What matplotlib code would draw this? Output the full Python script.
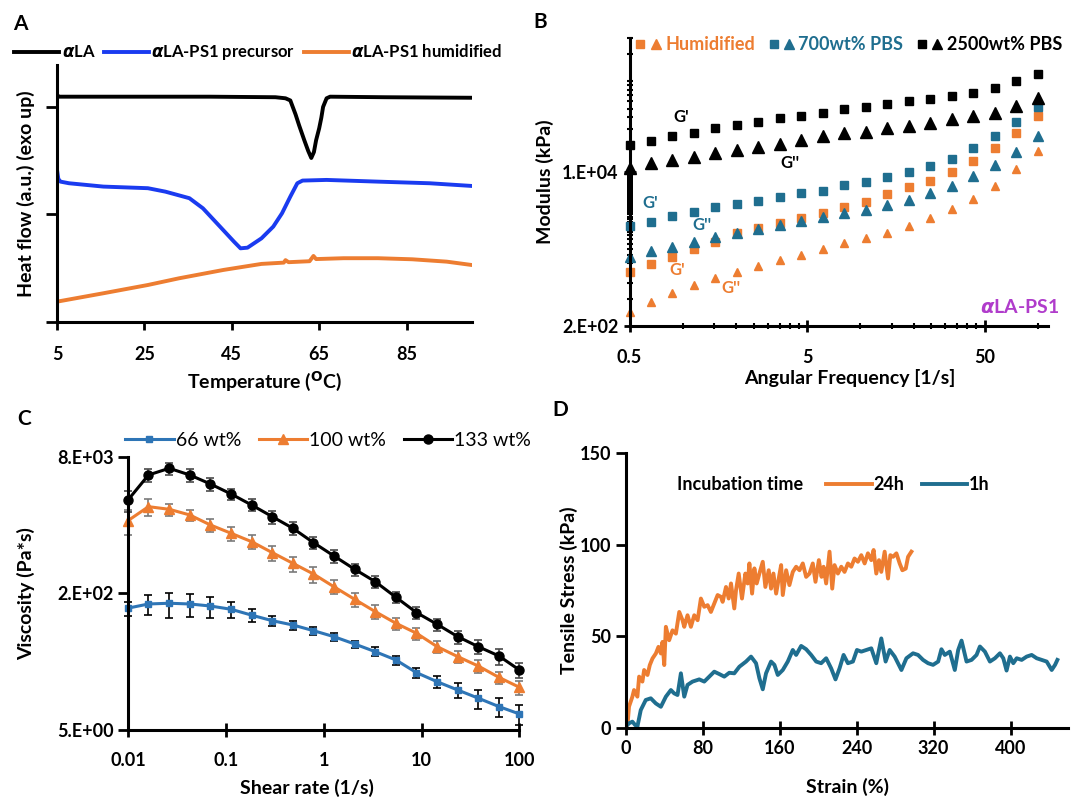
import matplotlib
matplotlib.use('Agg')
import matplotlib.pyplot as plt
from matplotlib.lines import Line2D
from matplotlib.legend_handler import HandlerTuple
from matplotlib.ticker import FixedLocator, NullFormatter

plt.rcParams['font.family'] = ['Lato', 'DejaVu Sans']
plt.rcParams['font.weight'] = 'bold'
plt.rcParams['axes.labelweight'] = 'bold'
plt.rcParams['axes.linewidth'] = 2.2
plt.rcParams['mathtext.fontset'] = 'dejavusans'

ORANGE = '#ED7D31'
TEAL = '#1F6E8F'
BLUE_C = '#2E75B6'
BLUE_A = '#1A3BF0'
PURPLE = '#B03CCB'

# ---------------- A: DSC curves ----------------
temp_la = [5, 5.5, 20, 40, 55, 57.3, 58.4, 59.6, 60.4, 61.6, 62.5, 63.2, 63.8, 64.3,
           65.0, 65.5, 65.9, 66.7, 67.5, 80, 100]
heat_la = [2.11, 2.095, 2.095, 2.095, 2.09, 2.08, 2.06, 1.93, 1.83, 1.69, 1.59, 1.525,
           1.58, 1.69, 1.80, 1.90, 2.0, 2.08, 2.095, 2.09, 2.085]
temp_pre = [5, 5.3, 5.8, 7.75, 15.6, 25.8, 29.8, 35.3, 38.4, 42.3, 45.5, 47.0, 48.6,
            51.8, 54.5, 56.5, 58.4, 60.0, 61.2, 66.7, 78.5, 90.3, 99.9]
heat_pre = [1.414, 1.33, 1.305, 1.29, 1.259, 1.244, 1.212, 1.151, 1.057, 0.887, 0.747,
            0.685, 0.691, 0.778, 0.887, 1.011, 1.166, 1.29, 1.315, 1.321, 1.305, 1.29, 1.265]
temp_hum = [5, 15.6, 25.8, 32.9, 43.1, 51.8, 56.9, 57.3, 58.0, 62.8, 63.7, 64.3, 70.6,
            78.5, 86.3, 94.2, 99.9]
heat_hum = [0.189, 0.267, 0.344, 0.406, 0.484, 0.540, 0.552, 0.575, 0.556, 0.565, 0.614,
            0.585, 0.593, 0.593, 0.583, 0.561, 0.530]
temp_ticks = [5, 25, 45, 65, 85]

# ---------------- B: frequency sweep ----------------
freq = [0.5, 0.661, 0.873, 1.154, 1.525, 2.016, 2.664, 3.52, 4.65, 6.15, 8.13, 10.74,
        14.2, 18.76, 24.8, 32.8, 43.3, 57.2, 75.6, 100]
g1_2500 = [19900, 22100, 25000, 27200, 30800, 33000, 35400, 39200, 41500, 44500, 49200,
           51800, 55900, 60800, 64400, 69000, 75000, 84500, 101000, 121000]
g2_2500 = [11000, 12500, 13600, 14500, 16100, 17500, 19000, 20400, 22500, 25000, 26700,
           27900, 30400, 32200, 34500, 38200, 41500, 45200, 53500, 65100]
g1_700 = [2535, 2827, 3270, 3648, 4140, 4436, 4820, 5335, 5820, 6220, 7190, 7815, 8870,
          9870, 11600, 14000, 18600, 24800, 35900, 52100]
g2_700 = [1161, 1352, 1476, 1701, 1902, 2138, 2332, 2601, 2899, 3162, 3554, 3808, 4324,
          4909, 5820, 7000, 9036, 11900, 16800, 25000]
g1_hum = [794, 966, 1161, 1402, 1701, 2105, 2392, 2757, 3083, 3554, 4140, 4701, 5715,
          6776, 8015, 10000, 13300, 18300, 26700, 41500]
g2_hum = [287, 370, 458, 566, 671, 794, 917, 1069, 1213, 1402, 1633, 1853, 2138, 2535,
          3083, 3873, 5035, 7000, 10700, 17200]

# ---------------- C: viscosity ----------------
shear = [0.01, 0.0162, 0.0264, 0.0428, 0.0695, 0.113, 0.183, 0.298, 0.483, 0.785, 1.27,
         2.07, 3.36, 5.46, 8.86, 14.4, 23.4, 37.9, 61.6, 100]
visc_133 = [2484, 4882, 5848, 4882, 3829, 2925, 2173, 1585, 1159, 786, 549, 383, 274,
            180, 119, 86.7, 62.1, 47.4, 36.9, 25.2]
err_133 = [700, 800, 950, 800, 700, 450, 350, 280, 200, 130, 90, 60, 45, 28, 18, 14, 11,
           9, 8, 5]
visc_100 = [1423, 2075, 1933, 1658, 1266, 1012, 807, 600, 450, 337, 239, 170, 122, 89.1,
            68.1, 47.4, 36.2, 28.1, 20.7, 15.8]
err_100 = [450, 450, 300, 250, 220, 180, 150, 120, 90, 70, 45, 30, 22, 15, 11, 8, 6, 5,
           3.5, 3]
visc_66 = [134, 150, 153, 150, 142, 130, 111, 95.5, 85.1, 73.0, 62.1, 50.9, 41.4, 33.1,
           23.5, 18.4, 14.7, 11.8, 9.4, 7.7]
err_66 = [25, 40, 50, 45, 40, 28, 20, 13, 10, 8, 6.5, 5, 5, 4, 3, 3, 3, 3, 2.3, 2]

# ---------------- D: tensile ----------------
strain_24h = [0, 2, 3.4, 6.9, 8.6, 12.1, 13.9, 17.3, 19.1, 22.6, 25.0, 27.8, 31.3, 34.0,
              36.5, 38.2, 40.0, 41.7, 45.1, 48.6, 52.1, 55.6, 59.0, 60.8, 64.2, 67.7,
              71.2, 74.7, 78.1, 81.6, 85.1, 88.5, 92.0, 95.5, 99.0, 100.7, 104.2, 107.0,
              109.4, 112.8, 114.6, 117.4, 120.8, 124.3, 126.7, 128.5, 131.3, 133.7,
              136.1, 138.9, 142.4, 145.1, 148.6, 151.0, 153.5, 156.3, 159.0, 161.5,
              163.2, 166.7, 170.1, 173.6, 177.1, 180.6, 184.0, 187.5, 191.0, 194.4,
              197.2, 200.7, 203.5, 205.6, 208.3, 211.8, 214.6, 217.0, 220.5, 224.0,
              227.4, 230.9, 234.4, 237.8, 241.3, 244.8, 248.3, 251.7, 255.2, 257.6,
              260.4, 263.2, 265.6, 269.1, 272.6, 275.0, 277.8, 281.3, 284.7, 287.5,
              291.0, 293.4, 296.9]
stress_24h = [0, 3, 11.8, 17.2, 20.8, 17.2, 28.1, 25.4, 31.7, 29.0, 34.4, 38.0, 40.7,
              44.3, 40.7, 47.0, 34.4, 55.2, 47.9, 53.3, 51.5, 63.3, 58.8, 55.2, 61.5,
              55.2, 61.5, 58.8, 70.6, 66.1, 67.0, 63.3, 67.9, 72.5, 71.5, 68.8, 76.9,
              70.6, 78.8, 65.2, 75.1, 84.2, 70.6, 84.2, 78.8, 89.7, 73.3, 87.0, 78.8,
              84.2, 90.6, 76.9, 86.0, 76.0, 84.2, 73.3, 81.5, 88.8, 72.5, 86.0, 77.9,
              85.1, 87.9, 86.0, 89.7, 82.4, 84.2, 89.7, 79.7, 91.5, 82.4, 87.9, 78.8,
              96.1, 76.0, 88.8, 84.2, 87.9, 85.1, 89.7, 87.9, 92.4, 90.6, 94.2, 89.7,
              95.2, 91.5, 97.0, 84.2, 91.5, 85.1, 96.1, 81.5, 94.2, 93.3, 95.2, 89.7,
              86.0, 86.9, 93.3, 96.1]
strain_1h = [0, 3.4, 6.9, 9.7, 12.1, 15.6, 20.8, 26.0, 31.3, 36.5, 41.7, 46.9, 50.3,
             53.8, 57.3, 60.8, 64.2, 69.4, 76.4, 81.6, 86.8, 92.0, 97.2, 102.4, 107.6,
             112.8, 118.1, 125.0, 130.2, 135.4, 138.9, 142.4, 145.8, 151.0, 154.5,
             158.0, 163.2, 168.4, 173.6, 177.1, 182.3, 187.5, 192.7, 197.9, 203.1,
             208.3, 213.5, 218.0, 222.2, 226.4, 230.9, 236.1, 240.3, 244.8, 250.0,
             255.2, 260.4, 265.6, 270.1, 274.3, 279.5, 286.5, 291.7, 298.6, 303.8,
             309.0, 314.2, 319.4, 324.7, 328.1, 331.6, 336.8, 342.0, 345.5, 349.0,
             354.2, 359.4, 364.6, 368.1, 373.3, 378.5, 383.7, 388.9, 392.4, 395.8,
             399.3, 402.8, 406.3, 411.5, 416.7, 421.9, 427.1, 432.3, 437.5, 442.7,
             446.2, 448.6]
stress_1h = [0.9, 2.7, 3.6, 1.8, 0.9, 9.9, 15.4, 16.3, 13.5, 11.7, 17.2, 20.8, 19.0,
             18.1, 29.9, 17.2, 23.6, 25.4, 26.6, 25.4, 28.1, 30.8, 29.5, 28.1, 30.2,
             29.9, 33.5, 36.3, 39.0, 35.4, 27.2, 21.2, 29.9, 36.3, 34.5, 29.0, 31.7,
             36.3, 42.6, 39.9, 44.8, 43.0, 39.9, 36.3, 35.4, 38.1, 32.6, 26.6, 32.6,
             39.9, 35.4, 36.3, 42.6, 41.7, 42.6, 43.5, 35.4, 48.9, 36.3, 42.6, 39.0,
             31.7, 38.1, 40.8, 39.9, 37.2, 35.4, 34.5, 36.3, 43.0, 39.9, 41.7, 31.7,
             42.6, 47.7, 36.3, 37.2, 39.9, 44.5, 41.7, 36.3, 38.1, 40.8, 38.1, 31.4,
             39.0, 35.4, 38.1, 37.2, 39.0, 39.9, 38.1, 37.2, 36.3, 31.7, 34.5, 37.2]


def style(ax):
    ax.spines['top'].set_visible(False)
    ax.spines['right'].set_visible(False)
    ax.tick_params(labelsize=13, width=2, length=6, color='black')


fig = plt.figure(figsize=(10.8, 8.09), dpi=100)

# ---- A ----
axA = fig.add_axes([0.0528, 0.602, 0.3843, 0.3177])
axA.plot(temp_la, heat_la, color='black', lw=2.8, label=r'$\alpha$LA')
axA.plot(temp_pre, heat_pre, color=BLUE_A, lw=2.8, label=r'$\alpha$LA-PS1 precursor')
axA.plot(temp_hum, heat_hum, color=ORANGE, lw=2.8, label=r'$\alpha$LA-PS1 humidified')
style(axA)
axA.set_xlim(5, 100)
axA.set_ylim(0, 2.39)
axA.set_xticks(temp_ticks)
axA.set_yticks([0, 1, 2])
axA.set_yticklabels([])
axA.tick_params(axis='y', length=8)
axA.tick_params(axis='x', pad=11)
axA.set_xlabel(r'Temperature ($^{\mathbf{O}}$C)', fontsize=14)
axA.set_ylabel('Heat flow (a.u.) (exo up)', fontsize=14)
axA.xaxis.set_label_coords(0.5, -0.183)
axA.yaxis.set_label_coords(-0.053, 0.5)
axA.legend(loc='center', bbox_to_anchor=(0.485, 1.047), ncol=3, frameon=False,
           fontsize=12, handlelength=2.7, handletextpad=0.15, columnspacing=0.5,
           borderpad=0)

# ---- B ----
axB = fig.add_axes([0.5829, 0.597, 0.3875, 0.356])
series_b = [(g1_hum, g2_hum, ORANGE, 5.8), (g1_700, g2_700, TEAL, 7.2),
            (g1_2500, g2_2500, 'black', 8.2)]
handles_b = []
for g1, g2, c, tri in series_b:
    axB.plot(freq, g1, ls='none', marker='s', ms=6, color=c, clip_on=False)
    axB.plot(freq, g2, ls='none', marker='^', ms=tri, color=c, clip_on=False)
    handles_b.append((Line2D([], [], ls='none', marker='s', ms=6, color=c),
                      Line2D([], [], ls='none', marker='^', ms=6.5, color=c)))
axB.set_xscale('log')
axB.set_yscale('log')
axB.set_xlim(0.5, 114)
axB.set_ylim(200, 3.0e5)
style(axB)
axB.xaxis.set_major_locator(FixedLocator([0.5, 5, 50]))
axB.set_xticklabels(['0.5', '5', '50'])
axB.xaxis.set_minor_locator(FixedLocator([0.5 * k for k in range(2, 10)] +
                                         [5 * k for k in range(2, 10)] + [100]))
axB.xaxis.set_minor_formatter(NullFormatter())
axB.yaxis.set_major_locator(FixedLocator([200, 1e4]))
axB.set_yticklabels(['2.E+02', '1.E+04'])
axB.yaxis.set_minor_locator(FixedLocator([200 * k for k in range(2, 50)] +
                                         [1e4 * k for k in range(2, 10)] + [1e5, 2e5, 3e5]))
axB.yaxis.set_minor_formatter(NullFormatter())
axB.tick_params(which='major', direction='inout', length=9)
axB.tick_params(which='minor', direction='inout', length=5, width=1.5)
axB.tick_params(axis='x', which='major', pad=12)
axB.set_xlabel('Angular Frequency [1/s]', fontsize=14)
axB.set_ylabel('Modulus (kPa)', fontsize=14)
axB.xaxis.set_label_coords(0.527, -0.149)
axB.yaxis.set_label_coords(-0.18, 0.5)
legB = axB.legend(handles_b, ['Humidified', '700wt% PBS', '2500wt% PBS'],
                  handler_map={tuple: HandlerTuple(ndivide=None, pad=0.4)},
                  loc='center', bbox_to_anchor=(0.525, 0.976), ncol=3, frameon=False,
                  fontsize=13, handlelength=1.3, handletextpad=0.3, columnspacing=0.8,
                  borderpad=0)
for t, c in zip(legB.get_texts(), [ORANGE, TEAL, 'black']):
    t.set_color(c)
for s, fx, fy, c in [("G'", 0.124, 0.727, 'black'), ("G''", 0.383, 0.565, 'black'),
                     ("G'", 0.049, 0.426, TEAL), ("G''", 0.173, 0.351, TEAL),
                     ("G'", 0.115, 0.194, ORANGE), ("G''", 0.243, 0.131, ORANGE)]:
    axB.text(fx, fy, s, color=c, fontsize=12, ha='center', va='center',
             transform=axB.transAxes)
axB.text(0.933, 0.067, r'$\alpha$LA-PS1', color=PURPLE, fontsize=14, ha='center',
         va='center', transform=axB.transAxes)

# ---- C ----
axC = fig.add_axes([0.1185, 0.0977, 0.3625, 0.3378])
eb = dict(capsize=3, elinewidth=1.2, capthick=1.2, lw=2.2, clip_on=False)
series_c = [(visc_66, err_66, BLUE_C, 's', 4.5, 'black', '66 wt%'),
            (visc_100, err_100, ORANGE, '^', 7.5, '#7a7a7a', '100 wt%'),
            (visc_133, err_133, 'black', 'o', 6.5, '#4a4a4a', '133 wt%')]
handles_c = []
for v, e, c, m, ms, ec, lab in series_c:
    axC.errorbar(shear, v, yerr=e, color=c, marker=m, ms=ms, ecolor=ec, **eb)
    handles_c.append(Line2D([], [], color=c, marker=m, ms=ms, lw=2.2, label=lab))
axC.set_xscale('log')
axC.set_yscale('log')
axC.set_xlim(0.01, 100)
axC.set_ylim(5, 8000)
style(axC)
axC.xaxis.set_major_locator(FixedLocator([0.01, 0.1, 1, 10, 100]))
axC.set_xticklabels(['0.01', '0.1', '1', '10', '100'])
axC.xaxis.set_minor_locator(FixedLocator([]))
axC.yaxis.set_major_locator(FixedLocator([5, 200, 8000]))
axC.set_yticklabels(['5.E+00', '2.E+02', '8.E+03'])
axC.yaxis.set_minor_locator(FixedLocator([]))
axC.tick_params(axis='x', direction='inout', length=10, pad=11)
axC.tick_params(axis='y', length=7)
axC.set_xlabel('Shear rate (1/s)', fontsize=14)
axC.set_ylabel('Viscosity (Pa*s)', fontsize=14)
axC.xaxis.set_label_coords(0.457, -0.179)
axC.yaxis.set_label_coords(-0.238, 0.5)
legC = axC.legend(handles=handles_c, loc='center', bbox_to_anchor=(0.511, 1.06), ncol=3,
                  frameon=False, fontsize=14, handlelength=2.5, handletextpad=0.1,
                  columnspacing=0.9, borderpad=0)
for t in legC.get_texts():
    t.set_fontweight('normal')

# ---- D ----
axD = fig.add_axes([0.5794, 0.0998, 0.4098, 0.3407])
axD.plot(strain_24h, stress_24h, color=ORANGE, lw=2.8, label='24h')
axD.plot(strain_1h, stress_1h, color=TEAL, lw=2.8, label='1h')
axD.set_xlim(0, 460)
axD.set_ylim(0, 150)
style(axD)
axD.set_xticks([0, 80, 160, 240, 320, 400])
axD.set_yticks([0, 50, 100, 150])
axD.tick_params(axis='x', direction='inout', length=10)
axD.tick_params(axis='y', length=7)
axD.set_xlabel('Strain (%)', fontsize=14)
axD.set_ylabel('Tensile Stress (kPa)', fontsize=14)
axD.xaxis.set_label_coords(0.5, -0.180)
axD.yaxis.set_label_coords(-0.108, 0.5)
axD.text(0.115, 0.883, 'Incubation time', fontsize=13, ha='left', va='center',
         transform=axD.transAxes)
axD.legend(loc='center', bbox_to_anchor=(0.638, 0.883), ncol=2, frameon=False,
           fontsize=13, handlelength=2.5, handletextpad=0.1, columnspacing=1.0,
           borderpad=0)

# panel letters
for s, x, y in [('A', 20, 24), ('B', 540, 22), ('C', 24, 419), ('D', 560, 410)]:
    fig.text(x / 1080, 1 - y / 809, s, fontsize=15, ha='center', va='center')

fig.savefig('out.png', dpi=100)
